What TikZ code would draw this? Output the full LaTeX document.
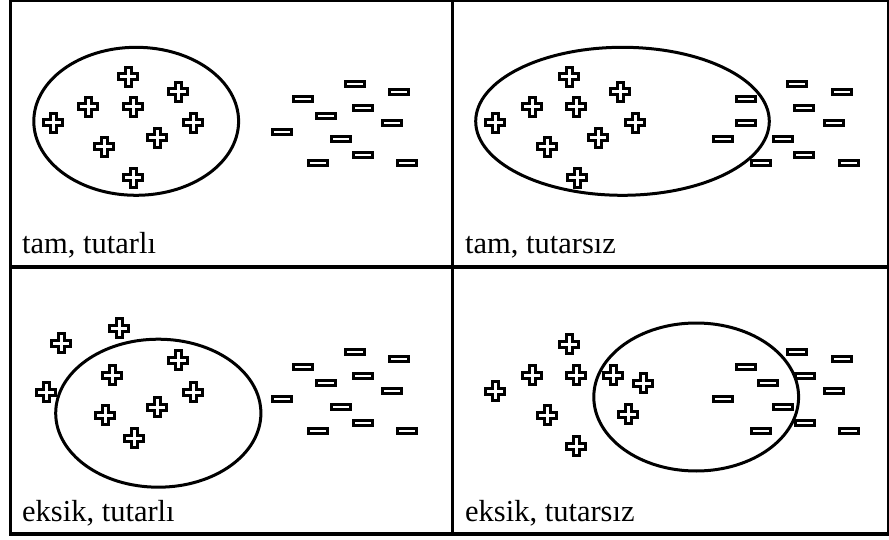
\documentclass[tikz,border=0pt]{standalone}
\usepackage{fontspec}
\setmainfont{Liberation Serif}
\begin{document}
\begin{tikzpicture}[x=1pt,y=-1pt,
  frame/.style={line width=3.2pt},
  cloud/.style={line width=3pt},
  symline/.style={line width=3pt, miter limit=4, fill=white},
  caption/.style={anchor=base west, inner sep=0pt, font=\fontsize{30.5}{32}\selectfont},
  pluspic/.pic={\draw[symline] (-3,-9.5) -- (3,-9.5) -- (3,-3) -- (9.5,-3) -- (9.5,3) -- (3,3)
      -- (3,9.5) -- (-3,9.5) -- (-3,3) -- (-9.5,3) -- (-9.5,-3) -- (-3,-3) -- cycle;},
  minuspic/.pic={\draw[symline] (-9.5,-2.7) rectangle (9.5,2.7);}
]
\useasboundingbox (0,0) rectangle (889,540);

% panel grid
\draw[frame] (10.5,0.5) rectangle (888.5,534);
\draw[frame] (452.7,0.5) -- (452.7,534);
\draw[frame] (10.5,267) -- (888.5,267);

% class boundaries
\draw[cloud] (136.2,121.3) ellipse [x radius=102.4pt, y radius=74pt];
\draw[cloud] (622.5,121.3) ellipse [x radius=146.8pt, y radius=74pt];
\draw[cloud] (158.3,413.2) ellipse [x radius=102.6pt, y radius=74pt];
\draw[cloud] (696.2,397) ellipse [x radius=102.4pt, y radius=74pt];

% positive examples
\foreach \p in {(128,77),(178,92),(88,107),(133,107),(53,123),(193,123),(157,138),(104,147),(133,178)}
  \pic at \p {pluspic};
\foreach \p in {(569,77),(620,92),(532,107),(576,107),(495,123),(635,123),(598,138),(547,147),(577,178)}
  \pic at \p {pluspic};
\foreach \p in {(61,343),(119,328),(46,392),(178,360),(112,375),(193,392),(157,407),(105,415),(134,438)}
  \pic at \p {pluspic};
\foreach \p in {(569,344),(532,375),(576,375),(613,375),(643,383),(495,391),(547,415),(628,414),(576,446)}
  \pic at \p {pluspic};

% negative examples
\foreach \p in {(355,84),(399,92),(303,99),(363,108),(326,116),(392,123),(282,132),(341,139),(363,155),(318,163),(407,163)}
  \pic at \p {minuspic};
\foreach \p in {(797,84),(842,92),(746,99),(804,108),(746,123),(834,123),(723,139),(783,139),(804,155),(761,163),(849,163)}
  \pic at \p {minuspic};
\foreach \p in {(355,352),(399,359),(303,367),(363,376),(326,383),(392,391),(282,399),(341,407),(363,423),(318,431),(407,431)}
  \pic at \p {minuspic};
\foreach \p in {(797,352),(842,359),(746,367),(805,376),(768,383),(834,391),(723,399),(783,407),(805,423),(761,431),(849,431)}
  \pic at \p {minuspic};

% panel captions
\node[caption] (c1) at (22,254) {tam, tutarlı};
\node[caption] (c2) at (465,254) {tam, tutarsız};
\node[caption] (c3) at (22,521.7) {eksik, tutarlı};
\node[caption] (c4) at (465,521.7) {eksik, tutarsız};
\end{tikzpicture}
\end{document}
